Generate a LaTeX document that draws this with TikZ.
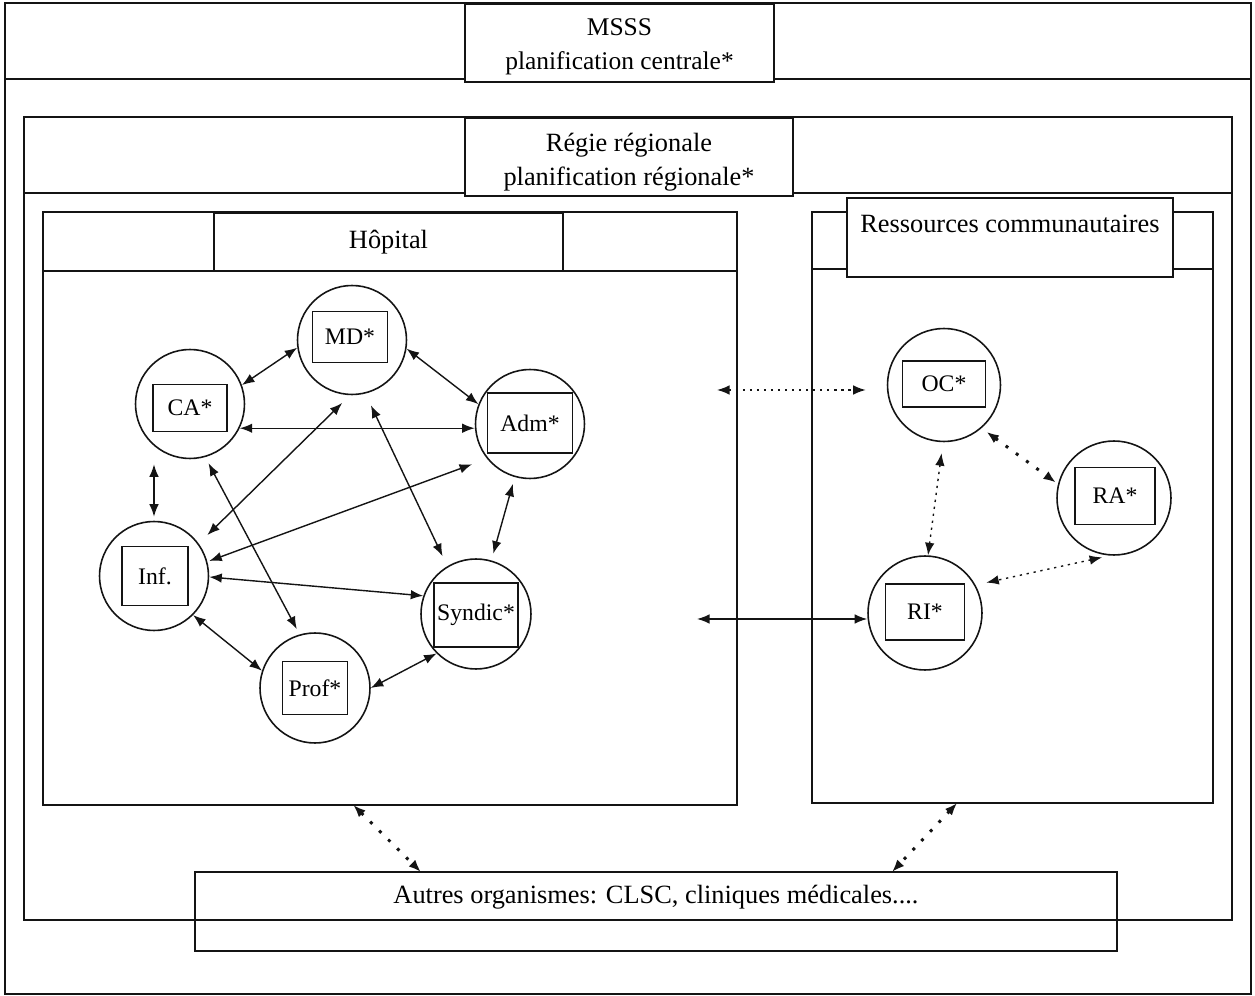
\documentclass[tikz,border=0pt]{standalone}
\usepackage{fontspec}
\setmainfont{Liberation Serif}
\usetikzlibrary{arrows.meta,calc}
\definecolor{ink}{RGB}{20,20,20}
\tikzset{
  zone/.style={draw=ink,line width=1pt,inner sep=0pt,outer sep=0pt},
  headbox/.style={draw=ink,fill=white,line width=1pt,inner sep=0pt,outer sep=0pt,
    font=\fontsize{15}{19}\selectfont,align=center},
  lbl/.style={font=\fontsize{15}{19.5}\selectfont,align=center,inner sep=0pt},
  actor/.style={circle,draw=ink,line width=0.9pt,minimum size=2.18cm,inner sep=0pt},
  tag/.style={draw=ink,line width=0.9pt,inner sep=0pt,font=\fontsize{13.5}{16}\selectfont},
  arr/.style={{Latex[length=2.5mm,width=1.9mm]}-{Latex[length=2.5mm,width=1.9mm]},line width=0.8pt,draw=ink},
  dotarr/.style={arr,dash pattern=on 1.3pt off 2.7pt},
  dotsarr/.style={arr,line width=1.7pt,dash pattern=on 1.7pt off 5.5pt},
}
\begin{document}
\begin{tikzpicture}[x=0.02cm,y=-0.02cm]
  \useasboundingbox (0,0) rectangle (1255,996);
  % ministere et regie
  \draw[zone] (5,3) rectangle (1251,994);
  \draw[zone] (5,79) -- (1251,79);
  \draw[zone] (24,117) rectangle (1232,920);
  \draw[zone] (24,193) -- (1232,193);
  \node[headbox,minimum width=6.18cm,minimum height=1.56cm] (msss) at (619.5,43) {};
  \node[lbl,font=\fontsize{14.5}{19.5}\selectfont] (mssstext) at (619.5,47)
    {MSSS\\planification centrale*};
  \node[headbox,minimum width=6.56cm,minimum height=1.56cm] (regie) at (629,157) {};
  \node[lbl] (regietext) at (629,162) {Régie régionale\\planification régionale*};

  % hopital
  \node[zone,minimum width=13.88cm,minimum height=11.86cm] (hop) at (390,508.5) {};
  \draw[zone] ([yshift=-1.18cm]hop.north west) -- ([yshift=-1.18cm]hop.north east);
  \node[headbox,minimum width=6.98cm,minimum height=1.16cm] (hophead) at (388.5,242) {Hôpital};

  % ressources communautaires
  \node[zone,minimum width=8.02cm,minimum height=11.82cm] (res) at (1012.5,507.5) {};
  \draw[zone] ([yshift=-1.14cm]res.north west) -- ([yshift=-1.14cm]res.north east);
  \node[headbox,minimum width=6.52cm,minimum height=1.58cm] (reshead) at (1010,237.5) {};
  \node[lbl] (restext) at (1010,224) {Ressources communautaires};

  % autres organismes
  \node[zone,minimum width=18.44cm,minimum height=1.58cm] (autres) at (656,911.5) {};
  \node[lbl] (autrestext) at (656,897) {Autres organismes: CLSC, cliniques médicales....};

  % acteurs de l'hopital
  \node[actor] (md) at (352,340) {};
  \node[tag,minimum width=1.5cm,minimum height=1.02cm] (mdt) at (350,337) {MD*};
  \node[actor] (ca) at (190,404) {};
  \node[tag,minimum width=1.48cm,minimum height=0.94cm] (cat) at (190,408) {CA*};
  \node[actor] (adm) at (530,424) {};
  \node[tag,minimum width=1.7cm,minimum height=1.2cm] (admt) at (530,423) {Adm*};
  \node[actor] (inf) at (154,576) {};
  \node[tag,minimum width=1.32cm,minimum height=1.18cm] (inft) at (155,576) {Inf.};
  \node[actor,minimum size=2.2cm] (syn) at (476,614) {};
  \node[tag,minimum width=1.68cm,minimum height=1.28cm] (synt) at (476,615) {Syndic*};
  \node[actor,minimum size=2.2cm] (prof) at (315,688) {};
  \node[tag,minimum width=1.3cm,minimum height=1.06cm] (proft) at (315,688) {Prof*};

  % acteurs communautaires
  \node[actor,minimum size=2.26cm] (oc) at (944,385) {};
  \node[tag,minimum width=1.66cm,minimum height=0.92cm] (oct) at (944,384) {OC*};
  \node[actor,minimum size=2.28cm] (ra) at (1114,498) {};
  \node[tag,minimum width=1.6cm,minimum height=1.14cm] (rat) at (1115,496) {RA*};
  \node[actor,minimum size=2.28cm] (ri) at (925,613) {};
  \node[tag,minimum width=1.58cm,minimum height=1.12cm] (rit) at (925,612) {RI*};

  % liens internes
  \draw[arr] (ca.20) -- (md.188);
  \draw[arr] (md.-9) -- (adm.159);
  \draw[arr] (ca.-26) -- (ca.-26 -| adm.west);
  \draw[arr,shorten <=0.1cm,shorten >=0.08cm] (inf.north |- ca.south) -- (inf.north);
  \draw[arr,shorten <=0.22cm,shorten >=0.24cm] (md.-92) -- (inf.36);
  \draw[arr,shorten <=0.26cm,shorten >=0.22cm] (md.-76) -- (syn.121);
  \draw[arr,shorten <=0.14cm,shorten >=0.12cm] (ca.-74) -- (prof.106);
  \draw[arr,shorten <=0.32cm,shorten >=0.04cm] (adm.219) -- (inf.15);
  \draw[arr,shorten <=0.14cm,shorten >=0.14cm] (adm.-106) -- (syn.74);
  \draw[arr] (inf.-1) -- (syn.161);
  \draw[arr] (inf.-45) -- (prof.162);
  \draw[arr] (prof.0) -- (syn.225);

  % liens communautaires
  \coordinate (hopl) at (717,390);
  \draw[dotarr,shorten >=0.42cm] (hopl) -- (hopl -| oc.west);
  \draw[dotsarr,shorten <=0.12cm,shorten >=0.05cm] (oc.-49) -- (ra.166);
  \draw[dotarr,shorten <=0.22cm] (oc.-91) -- (ri.87);
  \draw[dotarr,shorten <=0.16cm,shorten >=0.22cm] (ra.-94) -- (ri.29);
  \coordinate (hopr) at (697,619);
  \draw[arr] (hopr) -- (hopr -| ri.west);

  % vers les autres organismes
  \draw[dotsarr] ($(hop.south west)!0.447!(hop.south east)$)
    -- ($(autres.north west)!0.245!(autres.north east)$);
  \draw[dotsarr] ($(res.south west)!0.362!(res.south east)$)
    -- ($(autres.north west)!0.756!(autres.north east)$);
\end{tikzpicture}
\end{document}
